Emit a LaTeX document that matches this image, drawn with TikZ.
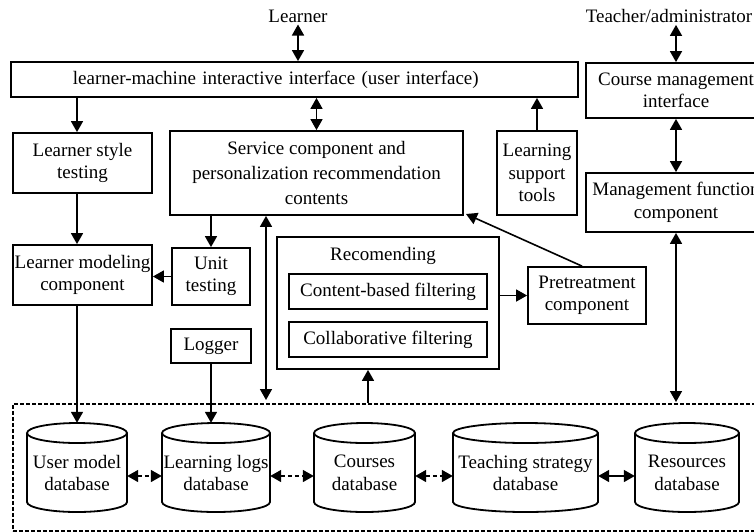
\documentclass[tikz,border=0pt]{standalone}
\usepackage{fontspec}
\setmainfont{Liberation Serif}
\usetikzlibrary{arrows.meta}
\tikzset{
 every node/.style={font=\fontsize{19}{22.5}\selectfont},
 txt/.style={inner sep=2pt},
 box/.style={draw, line width=1.8pt, inner xsep=1pt, inner ysep=0pt, align=center},
 tip/.style={},
 arr/.style={line width=1.6pt, -{Triangle[length=11pt,width=12pt]}},
 darr/.style={line width=1.6pt, {Triangle[length=11pt,width=12pt]}-{Triangle[length=11pt,width=12pt]}},
 ddarr/.style={darr, dash pattern=on 4pt off 3pt},
 dashbox/.style={draw, line width=1.6pt, dash pattern=on 4pt off 2pt, inner sep=0pt},
 dbnode/.style={inner sep=0pt, align=center, minimum height=100pt},
 cyl/.style={line width=1.8pt},
}
\newcommand\dbcyl[2]{%
 \draw[cyl] ([xshift=-#2pt,yshift=40pt]#1.center) -- ([xshift=-#2pt,yshift=-29pt]#1.center)
   arc[start angle=180,end angle=360,x radius=#2pt,y radius=10pt]
   -- ([xshift=#2pt,yshift=40pt]#1.center)
   arc[start angle=0,end angle=360,x radius=#2pt,y radius=10pt];}
\begin{document}
\begin{tikzpicture}[x=1pt,y=-1pt]
\useasboundingbox (0,0) rectangle (754,531);
% top labels
\node[txt] (ln) at (298,16) {Learner};
\node[txt] (ta) at (669,16) {Teacher/administrator};
% boxes
\node[box, anchor=west, minimum width=567, minimum height=35, inner xsep=62pt, text width=443pt, align=left] (ui) at (10,79.5) {learner-machine interactive interface (user interface)};
\node[box, minimum width=139, minimum height=60] (lst) at (82.5,163) {Learner style\\testing};
\node[box, minimum width=139, minimum height=60] (lm) at (82.5,275) {Learner modeling\\component};
\node[box, minimum width=78, minimum height=57] (ut) at (211,276.5) {Unit\\testing};
\node[box, minimum width=293, minimum height=84, font=\fontsize{19}{25}\selectfont] (sc) at (316.5,173) {Service component and\\personalization recommendation\\contents};
\node[box, minimum width=80, minimum height=84] (lt) at (537,173) {Learning\\support\\tools};
\node[box, minimum width=180, minimum height=55] (cm) at (676,90.5) {Course management\\interface};
\node[box, minimum width=180, minimum height=59] (mf) at (676,202.5) {Management function\\component};
\node[box, minimum width=222, minimum height=132] (rec) at (388,303) {};
\node[txt, anchor=base] (rect) at (383,260) {Recomending};
\node[box, minimum width=198, minimum height=35] (cb) at (388,291.5) {Content-based filtering};
\node[box, minimum width=198, minimum height=35] (cf) at (388,339.5) {Collaborative filtering};
\node[box, minimum width=118, minimum height=57] (pt) at (587,295.5) {Pretreatment\\component};
\node[box, minimum width=80, minimum height=34] (lg) at (211,346) {Logger};
% data store
\node[dashbox, anchor=north west, minimum width=752, minimum height=127] (store) at (12,403) {};
\node[dbnode, minimum width=100] (um) at (77,473) {User model\\database};
\node[dbnode, minimum width=108] (ll) at (216,473) {Learning logs\\database};
\node[dbnode, minimum width=101] (cd) at (364.5,473) {Courses\\database};
\node[dbnode, minimum width=145] (ts) at (525.5,473) {Teaching strategy\\database};
\node[dbnode, minimum width=104] (rd) at (687,473) {Resources\\database};
\dbcyl{um}{50}
\dbcyl{ll}{54}
\dbcyl{cd}{50.5}
\dbcyl{ts}{72.5}
\dbcyl{rd}{52}
% helper coordinates
\coordinate (x77) at (77,0);
\coordinate (e1) at (266,400);
\coordinate (e2) at (676,402);
\coordinate (e3) at (368,403);
\coordinate (e4) at (466,214);
% connectors
\draw[darr] (ln.south) -- (ln.south |- ui.north);
\draw[darr] (cm.north |- ta.south) -- (cm.north);
\draw[darr] (sc.north |- ui.south) -- (sc.north);
\draw[arr] (x77 |- ui.south) -- (x77 |- lst.north);
\draw[arr] (x77 |- lst.south) -- (x77 |- lm.north);
\draw[arr] (ut.west) -- (ut.west -| lm.east);
\draw[arr] (ut.north |- sc.south) -- (ut.north);
\draw[arr] (lt.north) -- (lt.north |- ui.south);
\draw[darr] (e1 |- sc.south) -- (e1);
\draw[darr] (cm.south) -- (mf.north);
\draw[darr] (mf.south) -- (e2);
\draw[arr] (pt.west -| rec.east) -- (pt.west);
\draw[arr] ([xshift=-5pt]pt.north) -- (e4);
\draw[arr] (e3) -- (e3 |- rec.south);
\draw[arr] (um.north |- lm.south) -- (um.north);
\draw[arr] (lg.south) -- (lg.south |- ll.north);
\draw[ddarr] ([yshift=-3pt]um.east) -- ([yshift=-3pt]ll.west);
\draw[ddarr] ([yshift=-3pt]ll.east) -- ([yshift=-3pt]cd.west);
\draw[ddarr] ([yshift=-3pt]cd.east) -- ([yshift=-3pt]ts.west);
\draw[darr] ([yshift=-3pt]ts.east) -- ([yshift=-3pt]rd.west);
\end{tikzpicture}
\end{document}
